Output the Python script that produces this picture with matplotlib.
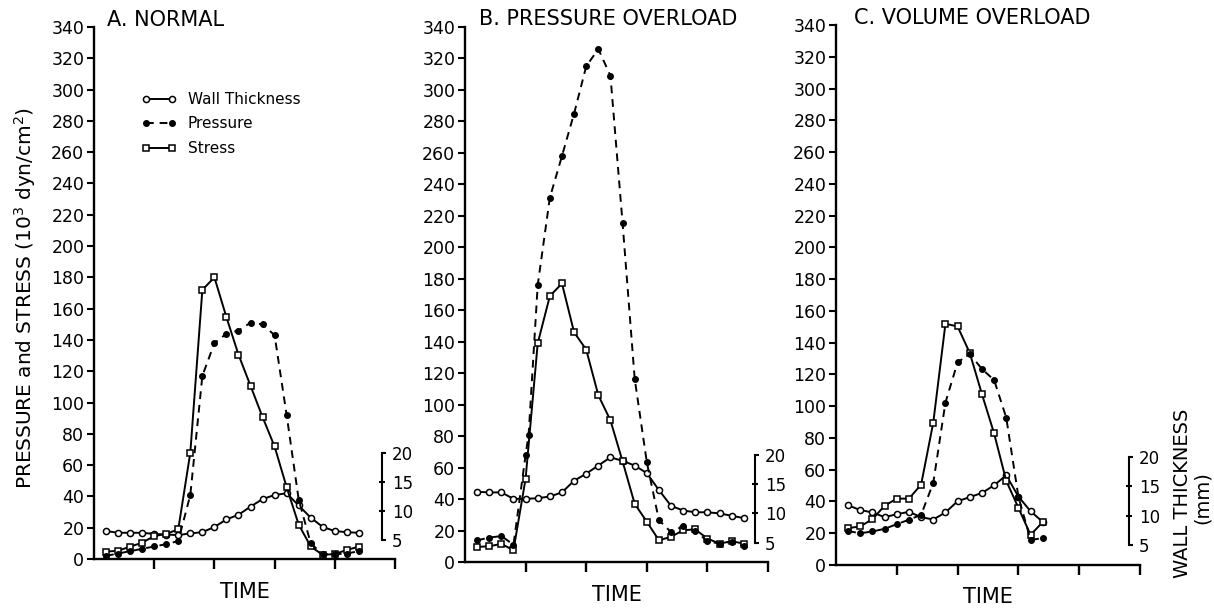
import matplotlib
matplotlib.use("Agg")
import matplotlib.pyplot as plt

# ---------------- data ----------------
# time in arbitrary units (x-axis ticks at 1..5, no labels)
time_a = [0.2, 0.4, 0.6, 0.8, 1.0, 1.2, 1.4, 1.6, 1.8, 2.0, 2.2, 2.4, 2.6, 2.8,
          3.0, 3.2, 3.4, 3.6, 3.8, 4.0, 4.2, 4.4]
stress_a = [4.7, 5.3, 7.9, 10.4, 14.7, 16, 19, 68, 172, 180, 154.5, 130.6, 110.7,
            90.7, 71.9, 45.9, 22, 8, 2.6, 3.2, 5.8, 7.9]
pressure_a = [2, 3.5, 5, 6.5, 8, 9.5, 11.5, 41, 117, 138, 144, 146, 151, 150, 143,
              92, 38, 10, 3, 3, 3.5, 5]
wall_a = [6.5, 6.2, 6.2, 6.2, 6.0, 5.9, 5.8, 6.1, 6.3, 7.2, 8.5, 9.3, 10.7, 12.0,
          12.7, 13.0, 10.9, 8.8, 7.2, 6.5, 6.3, 6.2]

time_b = [0.2, 0.4, 0.6, 0.8, 1.0, 1.2, 1.4, 1.6, 1.8, 2.0, 2.2, 2.4, 2.6, 2.8,
          3.0, 3.2, 3.4, 3.6, 3.8, 4.0, 4.2, 4.4, 4.6]
stress_b = [9.6, 10, 11.5, 7.5, 53, 139, 169, 177, 146, 135, 106, 90, 64, 37,
            25.6, 13.8, 16, 20.2, 20.7, 14.9, 11.7, 13.2, 11.7]
ptime_b = [0.2, 0.4, 0.6, 0.8, 1.0, 1.05, 1.2, 1.4, 1.6, 1.8, 2.0, 2.2, 2.4, 2.6,
           2.8, 3.0, 3.2, 3.4, 3.6, 3.8, 4.0, 4.2, 4.4, 4.6]
pressure_b = [13.8, 15.5, 16.5, 11, 68, 81, 176, 231.5, 258, 285, 315, 326, 309,
              215.5, 116.5, 63.5, 26.6, 19, 22.8, 19.8, 13.2, 11.7, 12.8, 10.2]
wall_b = [13.7, 13.6, 13.6, 12.5, 12.5, 12.6, 12.9, 13.6, 15.6, 16.8, 18.2, 19.6,
          19.0, 18.2, 16.9, 14.0, 11.3, 10.5, 10.2, 10.2, 10.0, 9.6, 9.2]

time_c = [0.2, 0.4, 0.6, 0.8, 1.0, 1.2, 1.4, 1.6, 1.8, 2.0, 2.2, 2.4, 2.6, 2.8,
          3.0, 3.2, 3.4]
stress_c = [23.2, 24.3, 28.9, 37.3, 41.8, 41.8, 50.6, 89.7, 151.9, 150.2, 133.5,
            107.6, 82.9, 53, 36, 19, 27]
pressure_c = [21.3, 20, 21.1, 22.8, 25.7, 28.5, 31.6, 51.7, 102.3, 127.6, 132.9,
              123.4, 116.5, 92.8, 43, 15.8, 16.9]
wall_c = [11.8, 11.0, 10.6, 9.8, 10.3, 10.7, 9.8, 9.4, 10.6, 12.5, 13.2, 13.9,
          15.2, 16.9, 13.3, 10.8, 9.0]

titles = ["A. NORMAL", "B. PRESSURE OVERLOAD", "C. VOLUME OVERLOAD"]
left_ticks = list(range(0, 341, 20))
x_ticks = [1, 2, 3, 4, 5]
wall_major = [5, 20]
wall_minor = [10, 15]

# ---------------- layout ----------------
W, H = 1214, 608
fig = plt.figure(figsize=(W / 100, H / 100), dpi=100)
plt.rcParams['font.family'] = ['DejaVu Sans']

# wall-thickness scale: 5 mm <-> 12.3, 20 mm <-> 68 on the pressure scale
slope = 15.0 / (68.0 - 12.3)
MM_LO = 5 - 12.3 * slope
MM_HI = 5 + (340 - 12.3) * slope

# pixel boxes: left, right, top(340), bottom(0), bracket x
boxes = [(94, 395, 27, 559, 382),
         (465, 768, 27, 562, 755),
         (836, 1140, 25, 565, 1129)]
title_pos = [(107, 20), (479, 19), (854, 18)]
time_y = [592, 595, 597]

panels = [
    (time_a, stress_a, time_a, pressure_a, wall_a),
    (time_b, stress_b, ptime_b, pressure_b, wall_b),
    (time_c, stress_c, time_c, pressure_c, wall_c),
]

LW = 1.4
handles = None
for i, (box, data) in enumerate(zip(boxes, panels)):
    l, r, t, b, bx = box
    ax = fig.add_axes([l / W, 1 - b / H, (r - l) / W, (b - t) / H])
    ax.set_xlim(0, 5)
    ax.set_ylim(0, 340)
    for s in ("top", "right"):
        ax.spines[s].set_visible(False)
    for s in ("left", "bottom"):
        ax.spines[s].set_linewidth(1.7)
    ax.set_xticks(x_ticks)
    ax.set_xticklabels([])
    ax.set_yticks(left_ticks)
    ax.tick_params(axis="x", direction="out", length=7, width=1.7)
    ax.tick_params(axis="y", direction="out", length=5, width=1.5, pad=2,
                   labelsize=12.5)

    ts, st, tp, pr, wt = data
    l1, = ax.plot(ts, st, "-", color="black", lw=LW, marker="s", ms=4.2,
                  mfc="white", mec="black", mew=1.1, clip_on=False, zorder=3)
    l2, = ax.plot(tp, pr, linestyle=(0, (4, 3)), color="black", lw=LW,
                  marker="o", ms=4, mfc="black", mec="black", clip_on=False,
                  zorder=3)

    ax2 = ax.twinx()
    ax2.set_ylim(MM_LO, MM_HI)
    for s in ("top", "left", "bottom"):
        ax2.spines[s].set_visible(False)
    ax2.spines["right"].set_position(("axes", (bx - l) / (r - l)))
    ax2.spines["right"].set_bounds(5, 20)
    ax2.spines["right"].set_linewidth(1.5)
    ax2.set_yticks(wall_major)
    ax2.set_yticks(wall_minor, labels=[str(v) for v in wall_minor], minor=True)
    ax2.tick_params(axis="y", which="major", direction="out", length=3,
                    width=1.5, pad=4, labelsize=12)
    ax2.tick_params(axis="y", which="minor", direction="inout", length=5,
                    width=1.5, pad=4.5, labelsize=12)
    l3, = ax2.plot(ts, wt, "-", color="black",
                   lw=LW, marker="o", ms=4.4, mfc="white", mec="black",
                   mew=1.1, clip_on=False, zorder=3)
    ax.set_zorder(ax2.get_zorder() + 1)
    ax.patch.set_visible(False)

    tx, ty = title_pos[i]
    fig.text(tx / W, 1 - ty / H, titles[i], fontsize=15, va="center",
             ha="left")
    fig.text((l + r) / 2 / W, 1 - time_y[i] / H, "TIME", fontsize=15,
             va="center", ha="center")
    if i == 0:
        handles = (l3, l2, l1)
        legend_ax = ax

leg = legend_ax.legend(handles, ["Wall Thickness", "Pressure", "Stress"],
                       loc="upper left",
                       bbox_to_anchor=(141 / W, 1 - 92 / H),
                       bbox_transform=fig.transFigure, frameon=False,
                       numpoints=2, handlelength=2.3, handletextpad=0.75,
                       labelspacing=0.62, borderpad=0, borderaxespad=0,
                       fontsize=11)

fig.text(25 / W, 1 - 298 / H, "PRESSURE and STRESS (10$^3$ dyn/cm$^2$)",
         rotation=90, fontsize=14.5, va="center", ha="center")
fig.text(1183 / W, 1 - 493 / H, "WALL THICKNESS", rotation=90, fontsize=14,
         va="center", ha="center")
fig.text(1202 / W, 1 - 498 / H, "(mm)", rotation=90, fontsize=14,
         va="center", ha="center")

fig.savefig("out.png", dpi=100)
